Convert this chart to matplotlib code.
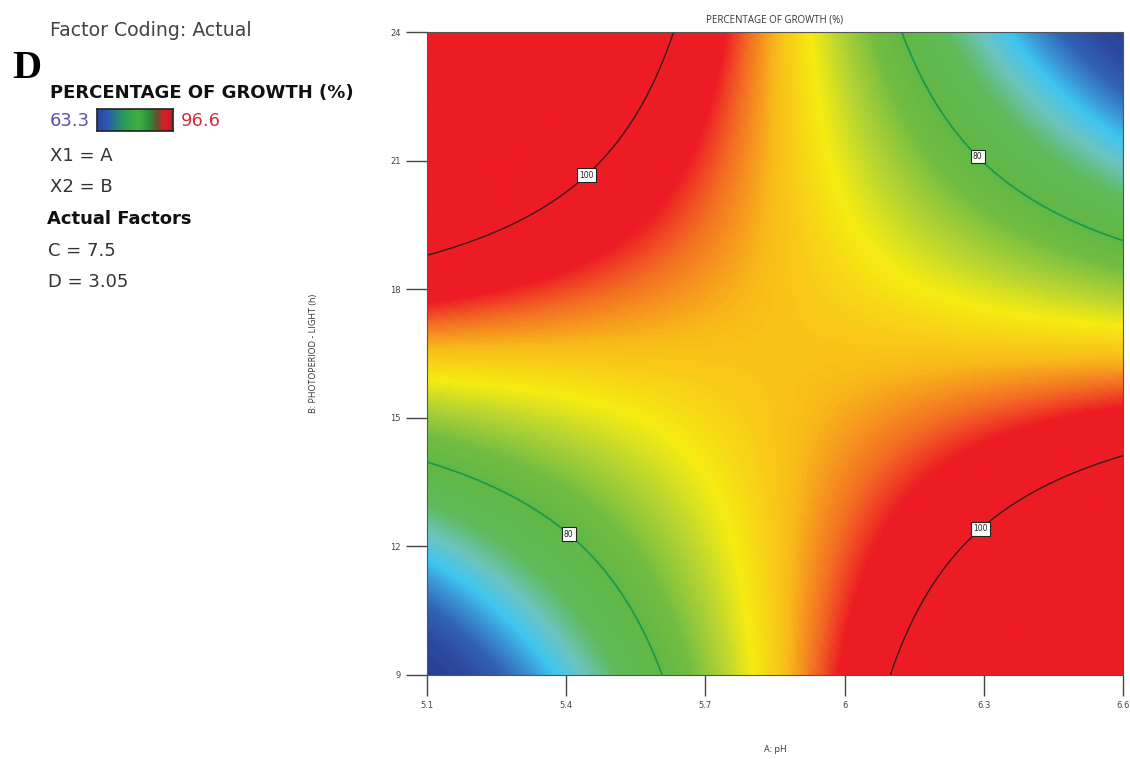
import numpy as np
import matplotlib
matplotlib.use("Agg")
import matplotlib.pyplot as plt
from matplotlib.colors import LinearSegmentedColormap, Normalize

# ---- data ----
a_range = [5.1, 6.6]          # A: pH
b_range = [9.0, 24.0]         # B: photoperiod - light (h)
x_ticks = [5.1, 5.4, 5.7, 6.0, 6.3, 6.6]
x_tick_labels = ["5.1", "5.4", "5.7", "6", "6.3", "6.6"]
y_ticks = [9, 12, 15, 18, 21, 24]
y_tick_labels = ["9", "12", "15", "18", "21", "24"]
# fitted response-surface model in coded units
model_intercept = 90.5
model_interaction = -30.5
model_a_shift = 0.02
model_b_shift = 0.0
contour_levels = [80, 100]
label_points = [(5.436, 20.76), (6.264, 20.85), (5.402, 12.24), (6.303, 12.29)]
legend_min, legend_max = 63.3, 96.6
actual_factors = ["C = 7.5", "D = 3.05"]

# ---- figure ----
W, H = 1130, 759
fig = plt.figure(figsize=(W / 100, H / 100), dpi=100)
ax = fig.add_axes([427 / W, 1 - 675 / H, (1123 - 427) / W, (675 - 32) / H])

A = np.linspace(a_range[0], a_range[1], 400)
B = np.linspace(b_range[0], b_range[1], 400)
AA, BB = np.meshgrid(A, B)
ca = (AA - np.mean(a_range)) / ((a_range[1] - a_range[0]) / 2)
cb = (BB - np.mean(b_range)) / ((b_range[1] - b_range[0]) / 2)
Z = model_intercept + model_interaction * (ca - model_a_shift) * (cb - model_b_shift)

# colour map in value space
nodes = [(58, "#283a92"), (63, "#2c4aa0"), (66, "#3262b5"), (68.5, "#3a95d6"),
         (70.5, "#3ec6f0"), (73, "#6cc4c0"), (76, "#5fbb5a"), (80, "#62b846"),
         (82.5, "#72bd42"), (85.5, "#b5d433"), (88, "#f6ec12"), (91, "#f9bc1a"),
         (93.5, "#f36a24"), (95.5, "#ed1c24"), (100, "#ed1c24")]
vmin, vmax = nodes[0][0], nodes[-1][0]
cmap = LinearSegmentedColormap.from_list(
    "de", [((v - vmin) / (vmax - vmin), c) for v, c in nodes])
ax.imshow(Z, origin="lower", extent=[a_range[0], a_range[1], b_range[0], b_range[1]],
          aspect="auto", cmap=cmap, norm=Normalize(vmin, vmax, clip=True),
          interpolation="bilinear")

cs = ax.contour(AA, BB, Z, levels=contour_levels, colors=["#1a9a50", "#3a1818"],
                linewidths=[1.3, 1.0])
labels = ax.clabel(cs, fmt="%d", fontsize=5.5, inline=True, inline_spacing=2,
                   manual=label_points, colors="#222222")
for t in labels:
    t.set_rotation(0)
    t.set_bbox(dict(facecolor="white", edgecolor="#222222", pad=1.6, linewidth=0.8))

ax.set_xlim(a_range)
ax.set_ylim(b_range)
ax.set_xticks(x_ticks)
ax.set_xticklabels(x_tick_labels)
ax.set_yticks(y_ticks)
ax.set_yticklabels(y_tick_labels)
ax.tick_params(axis="both", direction="out", length=15, width=1.0, color="#444444",
               labelsize=6, labelcolor="#444444", pad=4)
for s in ax.spines.values():
    s.set_color("#555555")
    s.set_linewidth(0.8)

ax.set_title("PERCENTAGE OF GROWTH (%)", fontsize=7, color="#333333", pad=7,
             family="Open Sans")
ax.set_xlabel("A: pH", fontsize=6.5, color="#333333", labelpad=25, family="Open Sans")
ax.set_ylabel("B: PHOTOPERIOD - LIGHT (h)", fontsize=6.5, color="#333333",
              labelpad=52, family="Open Sans")

# ---- left-hand legend panel ----
fam = "DejaVu Sans"
def px(x, y):
    return x / W, 1 - y / H

fig.text(*px(50, 30), "Factor Coding: Actual", fontsize=13.6, color="#444444",
         family=fam, va="center", ha="left")
fig.text(*px(12, 68), "D", fontsize=29, fontweight="bold", color="black",
         family="Liberation Serif", va="center", ha="left")
fig.text(*px(50, 93), "PERCENTAGE OF GROWTH (%)", fontsize=13, fontweight="bold",
         color="#111111", family=fam, va="center", ha="left")
fig.text(*px(50, 121), f"{legend_min}", fontsize=13, color="#5a50b0",
         family=fam, va="center", ha="left")
fig.text(*px(181, 121), f"{legend_max}", fontsize=13, color="#d8303c",
         family=fam, va="center", ha="left")
cax = fig.add_axes([97 / W, 1 - 131 / H, 76 / W, 22 / H])
leg_cmap = LinearSegmentedColormap.from_list(
    "leg", [(0, "#2a45a8"), (0.15, "#2c5cb0"), (0.35, "#2a9a5a"), (0.55, "#40b040"),
            (0.7, "#2e8a3a"), (0.8, "#6a4a2a"), (0.88, "#d8202a"), (1, "#c01a22")])
cax.imshow(np.linspace(0, 1, 200)[None, :], aspect="auto", cmap=leg_cmap)
cax.set_xticks([])
cax.set_yticks([])
for s in cax.spines.values():
    s.set_color("#222222")
    s.set_linewidth(1.2)

fig.text(*px(50, 156), "X1 = A", fontsize=13, color="#333333", family=fam,
         va="center", ha="left")
fig.text(*px(50, 187), "X2 = B", fontsize=13, color="#333333", family=fam,
         va="center", ha="left")
fig.text(*px(47, 219), "Actual Factors", fontsize=13, fontweight="bold",
         color="#111111", family=fam, va="center", ha="left")
fig.text(*px(48, 251), actual_factors[0], fontsize=13, color="#333333", family=fam,
         va="center", ha="left")
fig.text(*px(48, 282), actual_factors[1], fontsize=13, color="#333333", family=fam,
         va="center", ha="left")

fig.savefig("out.png", dpi=100, facecolor="white")
